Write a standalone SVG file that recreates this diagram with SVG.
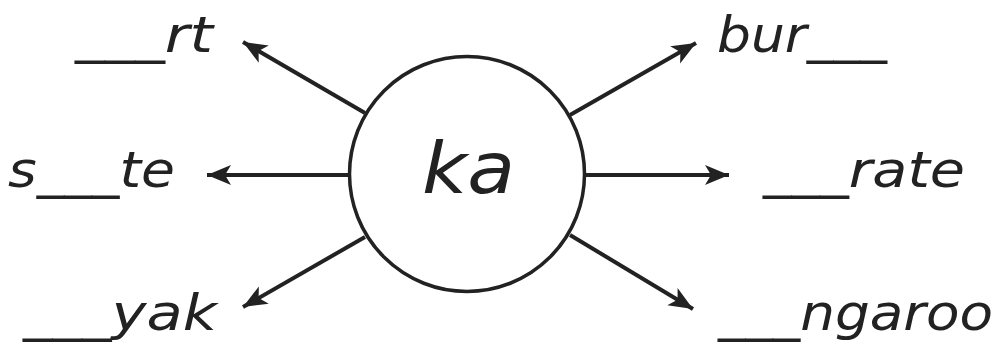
<svg xmlns="http://www.w3.org/2000/svg" width="998" height="351" viewBox="0 0 998 351">
<defs>
<style>
.lbl{font-family:"DejaVu Sans","Liberation Sans",sans-serif;font-style:italic;font-size:50px;fill:#222}
.ctr{font-family:"DejaVu Sans","Liberation Sans",sans-serif;font-style:italic;font-size:72px;fill:#222}
.conn{stroke:#222;stroke-width:4;fill:none;marker-end:url(#ah)}
</style>
<marker id="ah" markerUnits="userSpaceOnUse" markerWidth="26" markerHeight="22" viewBox="0 0 26 22" refX="24" refY="11" orient="auto">
<path d="M0,1 L24,11 L0,21 L6,11 Z" fill="#222"/>
</marker>
</defs>
<rect width="998" height="351" fill="#fff"/>
<g id="connectors">
<line class="conn" x1="365" y1="113" x2="243" y2="42"/>
<line class="conn" x1="349" y1="175" x2="207" y2="175"/>
<line class="conn" x1="365" y1="237" x2="243" y2="307"/>
<line class="conn" x1="570" y1="115" x2="696" y2="43"/>
<line class="conn" x1="585" y1="175" x2="729" y2="175"/>
<line class="conn" x1="570" y1="235" x2="693" y2="309"/>
</g>
<g id="center">
<circle cx="467" cy="174" r="117.5" fill="#fff" stroke="#222" stroke-width="3.5"/>
<text class="ctr" x="422" y="193" textLength="93" lengthAdjust="spacingAndGlyphs">ka</text>
</g>
<g id="n-rt"><text class="lbl" x="75" y="52" textLength="138" lengthAdjust="spacingAndGlyphs">___rt</text></g>
<g id="n-ste"><text class="lbl" x="8" y="187" textLength="167" lengthAdjust="spacingAndGlyphs">s___te</text></g>
<g id="n-yak"><text class="lbl" x="23" y="330" textLength="194" lengthAdjust="spacingAndGlyphs">___yak</text></g>
<g id="n-bur"><text class="lbl" x="717" y="52" textLength="170" lengthAdjust="spacingAndGlyphs">bur___</text></g>
<g id="n-rate"><text class="lbl" x="763" y="187" textLength="202" lengthAdjust="spacingAndGlyphs">___rate</text></g>
<g id="n-ngaroo"><text class="lbl" x="718" y="330" textLength="275" lengthAdjust="spacingAndGlyphs">___ngaroo</text></g>
</svg>
